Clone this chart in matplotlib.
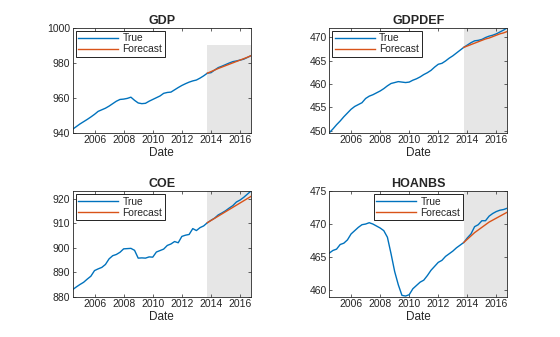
import numpy as np
import matplotlib
matplotlib.use("Agg")
import matplotlib.pyplot as plt

plt.rcParams["font.family"] = ["Liberation Sans", "DejaVu Sans"]

# quarterly dates, 2004Q3 .. 2016Q4 (decimal years)
dates = 2004.5 + 0.25 * np.arange(50)
fc_dates = dates[-13:]

gdp = [942.0, 943.5, 945.0, 946.3, 947.6, 949.0, 950.5, 952.2, 953.1, 954.0,
       955.2, 956.6, 958.0, 959.0, 959.2, 959.6, 960.3, 958.5, 957.0, 956.6,
       956.8, 958.0, 959.0, 960.0, 961.0, 962.5, 963.0, 963.2, 964.5, 965.8,
       967.0, 968.0, 968.9, 969.6, 970.1, 971.2, 972.5, 974.0, 974.3, 975.8,
       977.2, 978.0, 978.9, 979.8, 980.6, 981.0, 981.5, 982.0, 983.0, 984.0]
gdp_fc = [974.0, 974.9, 975.8, 976.7, 977.5, 978.3, 979.1, 979.9, 980.7,
          981.5, 982.3, 983.1, 984.0]

gdpdef = [449.6, 450.4, 451.3, 452.1, 453.0, 453.8, 454.6, 455.2, 455.6, 456.0,
          456.9, 457.4, 457.7, 458.1, 458.5, 459.0, 459.6, 460.1, 460.3, 460.5,
          460.4, 460.3, 460.4, 460.8, 461.1, 461.5, 462.0, 462.4, 462.9, 463.6,
          464.2, 464.4, 464.9, 465.5, 466.0, 466.6, 467.2, 467.8, 468.3, 468.8,
          469.2, 469.3, 469.5, 469.9, 470.2, 470.4, 470.7, 471.1, 471.5, 472.0]
gdpdef_fc = [467.8, 468.1, 468.4, 468.7, 469.0, 469.3, 469.6, 469.8, 470.1,
             470.4, 470.7, 470.9, 471.2]

coe = [882.9, 884.0, 885.0, 885.9, 887.2, 888.4, 890.7, 891.4, 892.0, 893.2,
       895.5, 896.8, 897.3, 898.2, 899.6, 899.7, 899.8, 899.0, 895.8, 895.9,
       895.8, 896.3, 896.2, 898.3, 898.9, 899.5, 901.0, 901.6, 902.6, 902.1,
       904.7, 905.2, 905.5, 907.9, 907.1, 908.3, 909.0, 910.3, 911.3, 912.2,
       913.5, 914.3, 915.2, 916.3, 917.3, 918.8, 919.6, 920.7, 922.0, 923.3]
coe_fc = [910.3, 911.2, 912.1, 913.0, 913.9, 914.8, 915.7, 916.6, 917.5,
          918.4, 919.3, 920.2, 921.1]

hoanbs = [465.6, 466.0, 466.2, 466.9, 467.1, 467.6, 468.5, 469.0, 469.5, 469.9,
          470.0, 470.2, 470.0, 469.7, 469.4, 469.0, 468.0, 465.5, 462.8, 460.8,
          459.2, 459.1, 459.3, 460.2, 460.7, 461.2, 461.5, 462.2, 463.0, 463.6,
          464.2, 464.5, 465.1, 465.5, 465.9, 466.4, 466.8, 467.2, 467.9, 468.5,
          469.6, 469.9, 470.5, 470.5, 471.2, 471.6, 471.9, 472.1, 472.2, 472.4]
hoanbs_fc = [467.2, 467.7, 468.2, 468.7, 469.1, 469.5, 469.9, 470.3, 470.6,
             470.9, 471.2, 471.5, 471.8]

xticks = [2006, 2008, 2010, 2012, 2014, 2016]

panels = [
    # name, true, forecast, ylim, yticks, shade ylim, legend loc, axes rect
    ("GDP", gdp, gdp_fc, (940, 1000), [940, 960, 980, 1000], (940, 990),
     "upper left", [0.1298, 0.6062, 0.3184, 0.3116]),
    ("GDPDEF", gdpdef, gdpdef_fc, (449.6, 472.0), [450, 455, 460, 465, 470],
     None, "upper left", [0.5880, 0.6062, 0.3179, 0.3116]),
    ("COE", coe, coe_fc, (880, 923.3), [880, 890, 900, 910, 920],
     None, "upper left", [0.1298, 0.1196, 0.3184, 0.3136]),
    ("HOANBS", hoanbs, hoanbs_fc, (459.0, 475), [460, 465, 470, 475],
     None, "upper center", [0.5880, 0.1196, 0.3179, 0.3136]),
]

BLUE = "#0072BD"
ORANGE = "#D95319"
TXT = "#262626"

fig = plt.figure(figsize=(5.6, 3.37), dpi=100)

for name, y, yf, ylim, yt, shade, loc, rect in panels:
    ax = fig.add_axes(rect)
    lo, hi = shade if shade else ylim
    ax.fill_between([fc_dates[0], dates[-1]], lo, hi, color="#E6E6E6",
                    lw=0, zorder=0)
    ax.plot(dates, y, color=BLUE, lw=1.0, label="True")
    ax.plot(fc_dates, yf, color=ORANGE, lw=1.0, label="Forecast")
    ax.set_xlim(dates[0], dates[-1])
    ax.set_ylim(*ylim)
    ax.set_xticks(xticks)
    ax.set_xticklabels([str(t) for t in xticks])
    ax.set_yticks(yt)
    ax.set_title(name, fontsize=9, fontweight="bold", color=TXT, pad=3)
    ax.set_xlabel("Date", fontsize=8.5, color=TXT, labelpad=1)
    ax.tick_params(direction="in", length=2.5, width=0.5, labelsize=7.5,
                   colors=TXT, top=True, right=True, pad=2)
    for s in ax.spines.values():
        s.set_linewidth(0.6)
        s.set_color(TXT)
    leg = ax.legend(loc=loc, fontsize=7.4, handlelength=3.9, labelspacing=0.1,
                    borderpad=0.25, handletextpad=0.4, fancybox=False,
                    framealpha=1, borderaxespad=0.3)
    leg.get_frame().set_edgecolor("black")
    leg.get_frame().set_linewidth(0.6)
    for t in leg.get_texts():
        t.set_color(TXT)

fig.savefig("out.png", dpi=100)
